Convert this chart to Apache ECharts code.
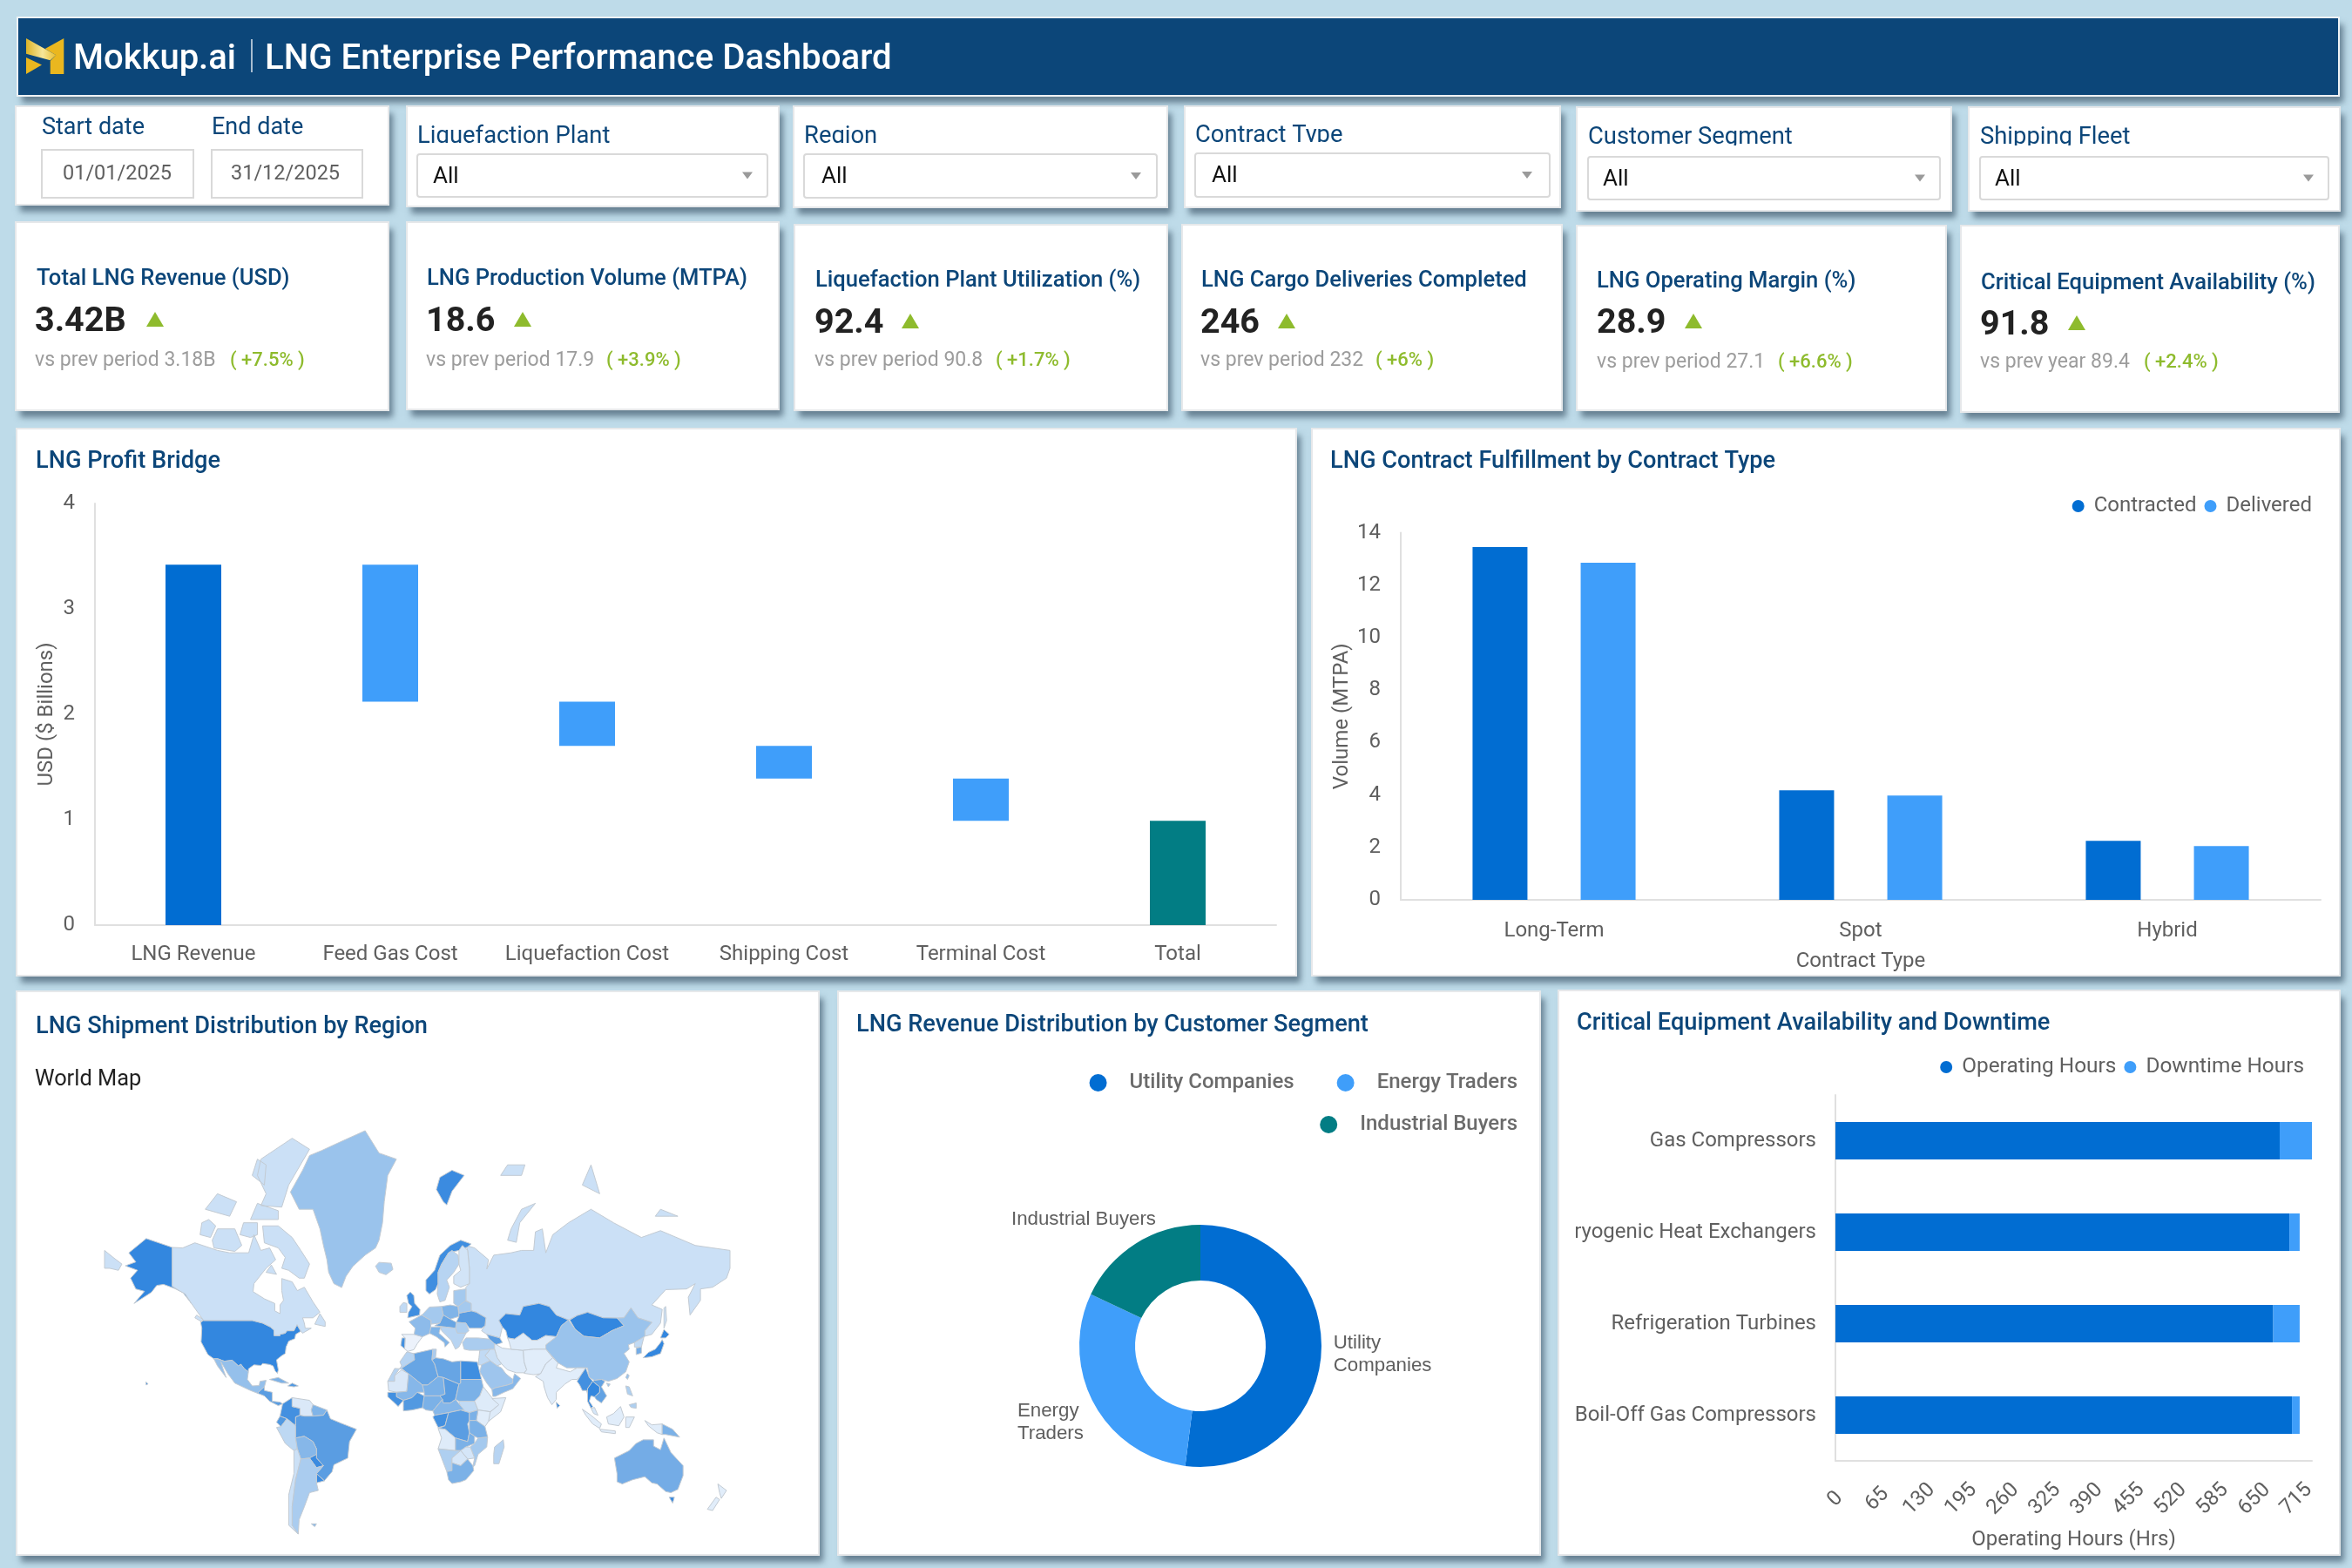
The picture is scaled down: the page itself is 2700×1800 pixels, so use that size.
<!DOCTYPE html>
<html>
<head>
<meta charset="utf-8">
<title>LNG Enterprise Performance Dashboard</title>
<script src="https://cdn.jsdelivr.net/npm/echarts@6/dist/echarts.min.js"></script>
<style>
  html, body { margin: 0; padding: 0; background: #BEDBE9; }
  #main { width: 2700px; height: 1800px; }
</style>
</head>
<body>
<div id="main"></div>
<script>
// ---- data ----
var bridgeCategories = ['LNG Revenue', 'Feed Gas Cost', 'Liquefaction Cost', 'Shipping Cost', 'Terminal Cost', 'Total'];
var bridgeBase = [0, 2.12, 1.70, 1.39, 0.99, 0];
var bridgeValues = [3.42, 1.30, 0.42, 0.31, 0.40, 0.99];

var contractTypes = ['Long-Term', 'Spot', 'Hybrid'];
var contracted = [13.45, 4.18, 2.25];
var delivered = [12.85, 3.98, 2.05];

var segmentNames = ['Utility Companies', 'Energy Traders', 'Industrial Buyers'];
var segmentLabels = ['Utility\nCompanies', 'Energy\nTraders', 'Industrial Buyers'];
var segmentValues = [52, 30, 18];

var equipment = ['Gas Compressors', 'Cryogenic Heat Exchangers', 'Refrigeration Turbines', 'Boil-Off Gas Compressors'];
var operatingHours = [689, 704, 679, 708];
var downtimeHours = [50, 16, 41, 12];

var kpiTitles = ['Total LNG Revenue (USD)', 'LNG Production Volume (MTPA)', 'Liquefaction Plant Utilization (%)', 'LNG Cargo Deliveries Completed', 'LNG Operating Margin (%)', 'Critical Equipment Availability (%)'];
var kpiValues = ['3.42B', '18.6', '92.4', '246', '28.9', '91.8'];
var kpiPrev = ['vs prev period 3.18B', 'vs prev period 17.9', 'vs prev period 90.8', 'vs prev period 232', 'vs prev period 27.1', 'vs prev year 89.4'];
var kpiChange = ['( +7.5% )', '( +3.9% )', '( +1.7% )', '( +6% )', '( +6.6% )', '( +2.4% )'];
var filterNames = ['Liquefaction Plant', 'Region', 'Contract Type', 'Customer Segment', 'Shipping Fleet'];

var regionNames = ['Alaska', 'USA', 'Canada', 'Greenland', 'Iceland', 'Svalbard', 'Russia', 'Kazakhstan', 'Mongolia', 'China', 'Japan', 'South Korea', 'North Korea', 'Norway', 'Sweden', 'Finland', 'UK', 'Ireland', 'Spain', 'Portugal', 'France', 'Germany', 'Poland', 'Ukraine', 'Belarus', 'Baltics', 'Italy', 'Romania', 'Central Europe', 'Balkans', 'Turkey', 'Caucasus', 'Iran', 'Iraq', 'Levant', 'Saudi Arabia', 'Oman Yemen', 'Central Asia', 'Afghanistan Pakistan', 'India', 'Sri Lanka', 'Myanmar', 'Thailand', 'Indochina', 'Malaysia', 'Indonesia', 'Papua', 'Philippines', 'Australia', 'Tasmania', 'New Zealand', 'Morocco', 'Algeria', 'Tunisia', 'Libya', 'Egypt', 'Mauritania', 'Mali', 'Niger', 'Chad', 'Sudan', 'South Sudan', 'Ethiopia', 'Somalia', 'Nigeria', 'Senegal', 'Ghana', 'Cameroon', 'Gabon', 'DR Congo', 'Kenya', 'Uganda', 'Tanzania', 'Angola', 'Zambia', 'Mozambique', 'Zimbabwe', 'Namibia', 'Botswana', 'South Africa', 'Madagascar', 'Mexico', 'Central America', 'Cuba', 'Hispaniola', 'Colombia', 'Venezuela', 'Guianas', 'Ecuador', 'Peru', 'Brazil', 'Bolivia', 'Paraguay', 'Uruguay', 'Chile', 'Argentina', 'Falklands'];
var regionValues = [100, 100, 25, 50, 40, 95, 25, 100, 100, 50, 100, 65, 30, 92, 35, 20, 92, 30, 3, 90, 55, 45, 60, 75, 45, 45, 60, 40, 70, 35, 42, 75, 12, 25, 30, 48, 58, 12, 10, 10, 100, 90, 100, 72, 18, 10, 62, 40, 65, 100, 10, 35, 70, 42, 70, 92, 15, 58, 62, 75, 62, 30, 12, 12, 62, 90, 80, 58, 90, 75, 10, 62, 62, 12, 62, 45, 18, 40, 18, 62, 35, 52, 75, 62, 80, 90, 15, 60, 80, 32, 75, 58, 95, 95, 25, 42, 60];

// simplified country outlines in lon,lat (no geojson available offline, traced by hand)
var regionOutlines = {
  'Alaska': [[-141,69.6,-156,71.3,-166,68.5,-162,66.5,-168,65.6,-161,64.5,-165,62.5,-162,59.5,-157,58.8,-163,55,-153,58.5,-150,60.5,-146,60.8,-140,59.7,-135,58.5,-130,55,-133.5,58,-137,59,-141,60.3]],
  'USA': [[-124.7,48.4,-123,49,-95,49,-89,48,-84.5,46.5,-82.5,45.3,-82.4,43,-79,43,-79,43.5,-76,44,-75,45,-71,45,-69.2,47.4,-67.8,45.7,-67,44.8,-70,43.5,-70.5,41.7,-74,40.6,-75.5,38,-76,35,-78,34,-81,32,-80,27,-80.5,25.2,-81.8,26.5,-83,29,-85,29.7,-89,30.2,-90,29.2,-94,29.5,-97.2,27.5,-97.2,26,-99.5,27.5,-101.5,29.8,-103,29,-106.5,31.8,-111,31.3,-114.8,32.5,-117.1,32.5,-120.5,34.5,-124.4,40.3,-124,46], [-156,19,-155,19.5,-155.5,20.2,-156.2,20.6]],
  'Canada': [[-141,69.6,-135,69.5,-128,70.5,-115,69,-108,68.5,-97,68.5,-94,72,-90,69,-85,69.5,-81.5,67,-87,65,-94,61,-94.5,58.7,-88,56.5,-82,55,-82,52.5,-79,51.5,-79,54.5,-77,56,-78,59,-78,62.4,-72,61.5,-69,59,-65,60,-60,55.5,-56,52,-60,50,-66,50,-65,48,-64.5,46,-61,46,-66,44,-67,44.8,-67.8,45.7,-69.2,47.4,-71,45,-75,45,-76,44,-79,43.5,-79,43,-82.4,43,-82.5,45.3,-84.5,46.5,-89,48,-95,49,-123,49,-123.5,49,-130,55,-133.5,58,-137,59,-141,60.3],
    [-62,66,-65,62.5,-68,62.5,-74,64.5,-78,65,-76,67.5,-80,69.5,-88,70.5,-89,73.5,-80,73.5,-72,71.5,-67,69], [-117,69.5,-105,68.8,-101,70,-105,73,-115,73,-118,71], [-125,72,-119,71.5,-116,73.5,-120,74.5,-124,74], [-90,76.5,-78,76.3,-74,79,-62,82.3,-72,83.1,-90,81.5,-92,80,-87,78], [-96,74.5,-80,74.5,-80,75.8,-92,76.8], [-122,76,-108,75,-104,77,-115,78], [-102,72,-96,71.5,-92,72,-92,74,-100,74], [-95,80,-88,79,-87,81,-92,81.5], [-87,64,-81,63.5,-84,65.8], [-59,47.6,-53,46.7,-53,48.5,-56,51.5], [-128,50,-124,48.5,-123.5,49.5,-127,51]],
  'Greenland': [[-73,78.2,-68,76,-60,76,-56,73,-54,70,-52,67,-51,64,-48,61,-43.5,59.9,-41,63,-37,65.5,-30,68,-24,69.5,-22,71,-20,74,-19,77,-17,80,-12,81.5,-22,82,-30,83.6,-45,82.8,-55,82.2,-62,81.8,-66,80.5]],
  'Iceland': [[-24,65.5,-22,64,-18,63.4,-14,64.7,-15,66.2,-22,66.4]],
  'Svalbard': [[11,78.5,15,77,17,76.6,20,78.3,27,80,20,80.5,13,79.8]],
  'Russia': [[28,70,33,69.5,41,67,40,64.8,44,68,54,68.5,60,69,67,69,68,72.5,72,73,74,68.5,78,72,87,74,100,76,113,74,129,71.5,140,72.7,160,70,170,69.5,180,69,180,65,178,62.5,170,60,163,59.5,163,56,157,51,156,57,160,61,155,59.5,143,59.3,135,54.5,141,53,140,48,135,43.5,131,42.7,131,45,135,48.3,127,50,123,53.5,119,50,115,49.9,107,50,98,52,92,50.8,87,49.2,80,51,76,54,70,55,61,54,59,51,51,51.5,47,49,49,46.5,47.5,42,40,43.5,37,45,39,47,39.5,50,34,52,31,52.5,31,55,28,56,28,60,30,61,30,65,29,69],
    [-180,65,-180,69,-175,67.5,-170,66,-172,64.5,-177,65], [52,71,57,70.6,59,74,68,76.8,60,76,54,73], [48,80,60,80,62,81,52,81], [95,79,105,78,100,81], [137,75,145,75,150,75,140,76], [142,46,143.5,49,143,54,142,53.5]],
  'Kazakhstan': [[47,49,51,51.5,59,51,61,54,70,55,76,54,80,51,87,49.2,83,47,80,42.5,74,43,69,41,66,41,61,44,56,41.5,52,42,51,45,49,46.5]],
  'Mongolia': [[87.8,49.2,92,50.8,98,52,107,50,115,49.9,119,47,112,45,105,42,96,42.7,91,45.5]],
  'China': [[74,39,80,42.5,83,47,87,49.2,91,45.5,96,42.7,105,42,112,45,119,47,115,49.9,119,50,123,53.5,127,50,135,48.3,131,45,131,42.7,125,40,121.5,39,122,37,119,35,122,31,120,26,115,22.5,110,21,106,22,102,21.5,99,23,98,28,92,28,86,28,81,30.5,78.5,33,74,37], [121,25,122,24,121,22,120,23], [109,20,111,19.5,110,18]],
  'Japan': [[130,33,135,33.5,140,35,142,39.5,141,41.3,140,40,137,37,133,35.5], [140,42,143,42,145,43.5,142,45.5]],
  'South Korea': [[126,34.5,129,35.2,129,38,126,37.5]],
  'North Korea': [[125,38,129,38,130.5,42.5,125,40]],
  'Norway': [[5,59,7,58,10.5,59.3,12,61,12,64,14,66,18,68.5,24,69,29,69.7,31,70.3,25,71,19,70,13,68,10,64.5,5,62]],
  'Sweden': [[11.5,58,13,55.5,16,56,18.5,60,17,62,21,64,24,66,23.5,68,20,69,18,68.5,14,66,12,64,12,61]],
  'Finland': [[21,61,25,60,30,61,30,65,29,69,26,70,24,69,24,66,25,64.5,21,63]],
  'UK': [[-5.5,50,1.3,51,1.6,53,-1.5,55,-2,57.5,-4,58.6,-6,57.5,-5,55,-3,54,-5,52]],
  'Ireland': [[-10,52,-6,52,-6,55,-8,55.3,-10,54]],
  'Spain': [[-9,43.5,-1.8,43.5,3,42.5,0,39.5,-2,36.8,-5.5,36,-7.3,37.2,-7,42]],
  'Portugal': [[-9.5,38.7,-7.3,37.2,-7,42,-8.8,42]],
  'France': [[-4.7,48.5,2.5,51,8,49,7.5,44,3,42.5,-1.8,43.5,-1.2,46]],
  'Germany': [[3,51.2,7,53.8,14,54,15,51,13,48,8,47.6,8,49,2.5,51]],
  'Poland': [[14,54,19,54.5,23.5,54,24,50.5,19,49.5,15,51]],
  'Ukraine': [[24,50.5,24,51.7,31,52.5,34,52,39.5,50,39,47,37,46,33,46,30,46,28,48,22.5,48.3]],
  'Belarus': [[23.5,54,27,56,31,55,31,52.5,24,51.7]],
  'Baltics': [[21,55,21,59,28,59.5,28,56,23.5,54]],
  'Italy': [[7,44,8,46.5,13.5,46.5,12.5,44,18.5,40,16,38,15.5,40,11,42.5]],
  'Romania': [[22.5,48.3,28,48,29.7,45,28,44,23,44,22,46]],
  'Central Europe': [[13,48,15,51,19,49.5,22.5,48.3,22,46,16,46.5,10,47]],
  'Balkans': [[13.5,46.5,16,46.5,22,46,23,44,28,44,26,41,24,38,22,37,19.5,41,14,45]],
  'Turkey': [[26,40,28,42,35,42,41.5,41.5,44.5,39.5,44.5,37,36,36.5,30,36.5,27,37]],
  'Caucasus': [[40,43.5,47.5,42,49,40,45,39,44.5,39.5,41.5,41.5]],
  'Iran': [[44.5,39.5,49,37.5,54,37,61,36.5,61.5,31,63,27,61.5,25.5,57,25.5,52,27,48.5,30,46,33,44.5,37]],
  'Iraq': [[39,34,42,37,44.5,37,46,33,48.5,30,46,29,42,31.5]],
  'Levant': [[35,29.5,35.5,33,36,36.5,42,37,39,34,42,31.5,37,29.5]],
  'Saudi Arabia': [[37,29.5,42,31.5,46,29,48.5,28,51,25,55,22,55,20,52,19,45,17.5,43,16.5,40,20,36,26]],
  'Oman Yemen': [[43,16.5,45,17.5,52,19,55,20,55,22,56,25,59.5,22.5,55,17,50,15,45,12.7,43.5,12.7]],
  'Central Asia': [[52,42,56,41.5,61,44,66,41,69,41,74,43,80,42.5,74,39,74,37,67,37,61,36.5,54,37,53,40]],
  'Afghanistan Pakistan': [[61,36.5,67,37,74,37,78,33,74,30,71,25,67,24.5,61.5,25.2,63,27,61.5,31]],
  'India': [[68,23.5,71,25,74,30,78,33,81,30.5,80,28,88,26,92,28,97,28,94,24,92,22,89,22,85,19.5,80,15,80,11,77.5,8,75,12,73,18,72.5,21]],
  'Sri Lanka': [[80,9.5,82,7.5,80.5,6]],
  'Myanmar': [[92,21,94,24,97,28,99,23,101,21,98,17,99,10,97.5,16,95,16,93.5,19]],
  'Thailand': [[98,17,101,21,105,18,105,15,102,12.5,100,13,99,10,101,7,100,6,98,10]],
  'Indochina': [[102,21.5,106,22,108,21,106,18,109,13,106,9,103,11,102,12.5,105,15,105,18,101,21]],
  'Malaysia': [[100,6,102,6.5,104,2,101.5,3]],
  'Indonesia': [[95,5.5,100,2,106,-3,105,-5.5,101,-3,97,2], [105,-6,114,-7,114,-8.5,106,-7.5], [109,1,113,3,117,7,119,1,116,-4,110,-3], [120,1,125,1,122,-5,120,-5], [131,-1,135,-3.5,141,-3,141,-9,138,-8,133,-4]],
  'Papua': [[141,-3,147,-6,151,-10.5,143,-9,141,-9]],
  'Philippines': [[120,18.5,122,18,124,13,121,14], [122,8,126,9,126,6,123,6.5]],
  'Australia': [[113.5,-22,122,-18,126,-14,130,-12,136,-12,136,-15.5,140,-17.5,142,-11,146,-19,153,-26,153,-31,150,-37.5,146,-39,143,-38.5,138,-35,135,-34.5,131,-31.5,124,-33,118,-35,115,-34,115,-30]],
  'Tasmania': [[145,-41,148,-41,147,-43.5]],
  'New Zealand': [[173,-35,178,-38,175,-41.5,174,-39], [172,-41,174,-42,170,-46.5,167,-46]],
  'Morocco': [[-6,35.8,-2,35,-1.5,32,-8.7,28,-8.7,27.5,-13,27.7,-17,21,-13,21,-13,24,-9,29,-10,31]],
  'Algeria': [[-2,35,9,37,8.5,32,10,30,12,23.5,6,19,3,19,-8.7,27.5,-8.7,28,-1.5,32]],
  'Tunisia': [[9,37,11,37,10.5,33,8.5,32]],
  'Libya': [[10.5,33,15,32.5,20,31,25,31.5,25,20,24,19.5,15,23,12,23.5,10,30,8.5,32]],
  'Egypt': [[25,31.5,34.5,31,37,22,25,22]],
  'Mauritania': [[-17,21,-13,21,-13,24,-9,27,-5,25,-6,15.5,-12,15,-16.5,16]],
  'Mali': [[-5,25,3,19,4,15,0,15,-3,12,-8,10.5,-12,12.5,-12,15,-6,15.5]],
  'Niger': [[3,19,6,19,12,23.5,15,23,16,14,13,13,4,13,4,15]],
  'Chad': [[15,23,24,19.5,22,11,19,9,15,9,13,13,16,14]],
  'Sudan': [[25,22,37,22,38,18,36,13,33,10,24,10,22,11,24,19.5,25,20]],
  'South Sudan': [[24,10,33,10,35,5,30,3.5,25,5]],
  'Ethiopia': [[36,13,38,18,43,12,47,8,42,4,35,5,33,10]],
  'Somalia': [[43,11.5,51,12,48,4,41,-1.5,41,3,47,8]],
  'Nigeria': [[3,6.3,3,12,4,13,13,13,14.5,11,9,4.5,5,5]],
  'Senegal': [[-17,15,-12,15,-12,12.5,-8,10.5,-11,7,-13,9,-17,12.5]],
  'Ghana': [[-8,10.5,-3,12,0,15,4,13,3,6.3,-3,5,-8,4.5,-8,7]],
  'Cameroon': [[9,4.5,14.5,11,15,9,19,9,22,11,27,5,25,5,18,3.5,10,2]],
  'Gabon': [[9,1,10,2,18,3.5,16,-4,12,-5]],
  'DR Congo': [[12,-5.5,16,-4,18,3.5,25,5,30,3.5,30,-1,29,-3,30,-8,29,-13,22,-11,16,-6]],
  'Kenya': [[34,-1,35,5,42,4,41,-1.5,39,-4.5]],
  'Uganda': [[30,3.5,35,5,34,-1,30,-1]],
  'Tanzania': [[30,-1,34,-1,39,-4.5,40.5,-10.5,35,-11,33,-10,30,-8]],
  'Angola': [[12,-5.5,16,-6,22,-11,22,-16,22,-18,12,-17,14,-11]],
  'Zambia': [[22,-11,29,-13,30,-8,33,-10,33,-14,28,-16,25,-18,22,-18]],
  'Mozambique': [[35,-11,40.5,-10.5,40,-16,35,-20,33,-26,32,-26.5,33,-22,30.5,-16,33,-14]],
  'Zimbabwe': [[25,-18,28,-16,30.5,-16,33,-22,29,-22.5]],
  'Namibia': [[12,-17,22,-18,25,-18,20,-22,20,-28.5,17,-29,14,-22]],
  'Botswana': [[20,-22,25,-18,29,-22.5,25,-26,20,-24.5]],
  'South Africa': [[17,-29,20,-28.5,20,-24.5,25,-26,29,-22.5,32,-26,32.5,-28.5,28,-33,25,-34,20,-34.8,18,-33]],
  'Madagascar': [[49.5,-12,50,-16,47,-25,44,-25,44,-20,44.5,-16]],
  'Mexico': [[-117.1,32.5,-114.8,32.5,-111,31.3,-106.5,31.8,-103,29,-101.5,29.8,-99.5,27.5,-97.2,26,-97.8,22,-95,18.5,-91,18.7,-90.5,21,-87,21.5,-88,18,-92,14.5,-96,16,-105,20,-109,25,-113,31,-112,28,-110,23,-115,29]],
  'Central America': [[-92,14.5,-88,18,-88,16,-83.5,15,-83.5,10,-79,9.5,-77.5,8.5,-80,7.5,-85,10,-88,13]],
  'Cuba': [[-85,22,-80,23,-74,20,-78,20]],
  'Hispaniola': [[-74.5,18.5,-72,20,-68.5,18.5,-71,18]],
  'Colombia': [[-77.5,8.5,-72,12,-72,7,-67.5,6,-67.5,2,-70,1,-70,-4,-75,0,-79,1.5]],
  'Venezuela': [[-72,12,-62,10.5,-60,8,-61,5,-60,1.5,-65,1.5,-67.5,2,-67.5,6,-72,7]],
  'Guianas': [[-60,8,-52,5,-54,2,-60,1.5,-61,5]],
  'Ecuador': [[-81,-2,-79,1.5,-75,0,-78.5,-4.5]],
  'Peru': [[-81,-5,-78.5,-4.5,-75,0,-70,-4,-70,-11,-69,-17,-71,-18,-76,-14]],
  'Brazil': [[-70,-4,-70,1,-67.5,2,-65,1.5,-60,1.5,-54,2,-52,5,-50,0,-44,-2.5,-35,-6,-39,-13,-40,-22,-48,-25.5,-49,-29,-53.5,-33.5,-58,-30,-54,-26,-58,-22,-58,-17,-60,-13,-65,-10,-70,-11]],
  'Bolivia': [[-70,-11,-65,-10,-60,-13,-58,-17,-58,-20,-62,-22,-67,-22.5,-69,-17]],
  'Paraguay': [[-62,-22,-58,-20,-58,-22,-54,-26,-58,-27]],
  'Uruguay': [[-58,-30,-53.5,-33.5,-58,-34.5]],
  'Chile': [[-71,-18,-69,-17,-67,-22.5,-70,-33,-72,-45,-72,-52,-68.5,-55,-74,-52,-74,-40,-71,-30]],
  'Argentina': [[-67,-22.5,-62,-22,-58,-27,-54,-26,-58,-30,-58,-34.5,-57,-38,-62,-39,-65,-45,-68,-50,-68.5,-55,-72,-52,-72,-45,-70,-33]],
  'Falklands': [[-61,-51.5,-58,-51.5,-59,-52.5]]
};

// ---- colours ----
var DARK = '#016DD2', LIGHT = '#3F9EFA', TEAL = '#027D84', NAVY = '#0C4679', GREY = '#5F5F5F', AXIS = '#E0E0E0', GREEN = '#8EBB2D', GOLD = '#EAB71F';
var FONT = 'Roboto';

// ---- map ----
function toCoords(flat) {
  var ring = [];
  for (var i = 0; i < flat.length; i += 2) ring.push([flat[i], flat[i + 1]]);
  ring.push([flat[0], flat[1]]);
  return [ring];
}
var worldFeatures = regionNames.map(function (name) {
  return {
    type: 'Feature',
    properties: { name: name },
    geometry: { type: 'MultiPolygon', coordinates: regionOutlines[name].map(toCoords) }
  };
});
echarts.registerMap('world', { type: 'FeatureCollection', features: worldFeatures });
var mercator = {
  project: function (p) { return [p[0], -180 / Math.PI * Math.log(Math.tan(Math.PI / 4 + p[1] * Math.PI / 360))]; },
  unproject: function (p) { return [p[0], (2 * Math.atan(Math.exp(-p[1] * Math.PI / 180)) - Math.PI / 2) * 180 / Math.PI]; }
};

// ---- page furniture drawn as graphic elements ----
var items = [];
var shadow = { shadowBlur: 7, shadowColor: 'rgba(45,70,90,0.6)', shadowOffsetX: 5, shadowOffsetY: 8 };
function panel(x1, y1, x2, y2, fill, edge) {
  var shape = { x: x1, y: y1, width: x2 - x1, height: y2 - y1 };
  // stroke goes in its own rect, a stroked rect would throw its shadow over its own fill
  items.push({ type: 'rect', z: -11, shape: shape, style: Object.assign({ fill: fill }, shadow) });
  items.push({ type: 'rect', z: -10, shape: shape, style: { fill: 'none', stroke: edge, lineWidth: 2 } });
}
function card(x1, y1, x2, y2) {
  panel(x1, y1, x2, y2, '#fff', '#E6E8EA');
}
function txt(x, y, text, size, color, weight, z) {
  items.push({
    type: 'text', z: z || -5, x: x, y: y + size * 0.1,
    style: { text: text, fill: color, font: (weight || 400) + ' ' + size + 'px ' + FONT, align: 'left', verticalAlign: 'middle' }
  });
}
function box(x1, y1, x2, y2, r) {
  items.push({ type: 'rect', z: -3, shape: { x: x1, y: y1, width: x2 - x1, height: y2 - y1, r: r }, style: { fill: '#fff', stroke: '#D9D9D9', lineWidth: 2 } });
}
function poly(points, fill) {
  items.push({ type: 'polygon', z: -2, shape: { points: points }, style: { fill: fill } });
}

// header
panel(20, 20, 2685, 110, NAVY, '#EEF2F5');
poly([[73.3, 44], [73.3, 85], [57.7, 85], [57.7, 70], [64.3, 63.3], [51.7, 56]], GOLD);
poly([[30, 66], [48, 74.5], [30, 85]], GOLD);
poly([[30, 44], [64.3, 63.3], [57.7, 69.3], [30, 61.7]], {
  type: 'linear', x: 0, y: 0, x2: 1, y2: 0,
  colorStops: [{ offset: 0, color: '#DDB428' }, { offset: 0.55, color: '#F6E69A' }, { offset: 1, color: '#E9BE2E' }]
});
txt(84, 65, 'Mokkup.ai', 40, '#fff', 500);
items.push({ type: 'line', z: -5, shape: { x1: 289, y1: 45, x2: 289, y2: 83 }, style: { stroke: '#DDE6EE', lineWidth: 1.5 } });
txt(304, 65, 'LNG Enterprise Performance Dashboard', 40.2, '#fff', 500);

// date filter
card(18, 122, 446, 235);
txt(48, 145, 'Start date', 27, NAVY);
txt(243, 145, 'End date', 27, NAVY);
box(48, 172, 222, 227, 0);
box(243, 172, 416, 227, 0);
txt(72, 198, '01/01/2025', 23.5, GREY, 400, -1);
txt(265, 198, '31/12/2025', 23.5, GREY, 400, -1);

// dropdown filters
var filterCards = [[467, 122, 894, 237], [911, 122, 1340, 238], [1360, 122, 1791, 238], [1810, 123, 2240, 242], [2260, 123, 2686, 242]];
var filterBoxes = [[479, 177, 881, 226], [923, 177, 1328, 227], [1372, 176, 1779, 226], [1823, 180, 2227, 229], [2273, 180, 2673, 229]];
var filterLabelY = [154, 154, 153, 155, 155];
var filterAllX = [497, 943, 1391, 1840, 2290];
var filterArrowX = [858, 1304, 1753, 2204, 2650];
filterNames.forEach(function (name, i) {
  var c = filterCards[i], b = filterBoxes[i];
  card(c[0], c[1], c[2], c[3]);
  txt(b[0], filterLabelY[i], name, 27.4, NAVY);
  // the original clips the descenders of these labels
  items.push({ type: 'rect', z: -4, shape: { x: b[0], y: b[1] - 13, width: 300, height: 11 }, style: { fill: '#fff' } });
  box(b[0], b[1], b[2], b[3], 3);
  var cy = (b[1] + b[3]) / 2;
  txt(filterAllX[i], cy - 1, 'All', 26, '#111', 400, -1);
  poly([[filterArrowX[i] - 6, cy - 4], [filterArrowX[i] + 6, cy - 4], [filterArrowX[i], cy + 4]], '#9A9A9A');
});

// KPI cards
var kpiCards = [[18, 255, 446, 471], [467, 255, 894, 470], [912, 258, 1340, 471], [1357, 258, 1793, 471], [1810, 259, 2234, 471], [2251, 259, 2685, 473]];
var kpiTitleX = [42, 490, 936, 1379, 1833, 2274];
var kpiTitleY = [318, 318, 320, 320, 321, 323];
var kpiValueX = [40, 489, 935, 1378, 1833, 2273];
var kpiValueY = [366, 366, 368, 368, 368, 370];
var kpiArrowX = [178, 600, 1045, 1477, 1944, 2384];
var kpiSubY = [412, 412, 412, 412, 414, 414];
var kpiChangeX = [264, 696, 1143, 1579, 2041, 2461];
kpiTitles.forEach(function (title, i) {
  var c = kpiCards[i];
  card(c[0], c[1], c[2], c[3]);
  txt(kpiTitleX[i], kpiTitleY[i], title, 25.6, NAVY, 500);
  txt(kpiValueX[i], kpiValueY[i], kpiValues[i], 39.5, '#222', 700);
  var ax = kpiArrowX[i], ay = kpiValueY[i] + 1;
  poly([[ax, ay - 9], [ax + 10, ay + 8], [ax - 10, ay + 8]], GREEN);
  txt(kpiValueX[i], kpiSubY[i], kpiPrev[i], 23, '#9C9C9C');
  txt(kpiChangeX[i], kpiSubY[i], kpiChange[i], 22, GREEN, 500);
});

// chart panels and their titles
card(19, 492, 1488, 1120);
card(1506, 492, 2686, 1120);
card(19, 1138, 940, 1785);
card(962, 1138, 1768, 1785);
card(1789, 1137, 2686, 1785);
txt(41, 527, 'LNG Profit Bridge', 27.2, NAVY, 500);
txt(1527, 527, 'LNG Contract Fulfillment by Contract Type', 27.2, NAVY, 500);
txt(41, 1176, 'LNG Shipment Distribution by Region', 27.2, NAVY, 500);
txt(40, 1237, 'World Map', 25.4, '#222');
txt(983, 1174, 'LNG Revenue Distribution by Customer Segment', 27.2, NAVY, 500);
txt(1810, 1172, 'Critical Equipment Availability and Downtime', 27.2, NAVY, 500);
// the category label overflows its panel padding in the original and gets cut
items.push({ type: 'rect', z: 50, shape: { x: 1792, y: 1397, width: 17, height: 32 }, style: { fill: '#fff' } });

// ---- chart ----
var axisLabel = { color: GREY, fontSize: 24, fontFamily: FONT };
var axisLine = { show: true, lineStyle: { color: AXIS, width: 2 } };
var nameStyle = { color: GREY, fontSize: 24, fontFamily: FONT };

var option = {
  animation: false,
  backgroundColor: '#BEDBE9',
  textStyle: { fontFamily: FONT },
  graphic: { elements: items },
  grid: [
    { left: 109, top: 578, width: 1356, height: 484 },
    { left: 1608, top: 611.5, width: 1056, height: 421.5 },
    { left: 2107, top: 1257, width: 547, height: 420 }
  ],
  xAxis: [
    { type: 'category', gridIndex: 0, data: bridgeCategories, axisTick: { show: false }, axisLine: axisLine, axisLabel: Object.assign({ margin: 22, interval: 0 }, axisLabel) },
    { type: 'category', gridIndex: 1, data: contractTypes, name: 'Contract Type', nameLocation: 'middle', nameGap: 59, nameTextStyle: nameStyle, axisTick: { show: false }, axisLine: axisLine, axisLabel: Object.assign({ margin: 24 }, axisLabel) },
    { type: 'value', gridIndex: 2, min: 0, max: 739, interval: 65, name: 'Operating Hours (Hrs)', nameLocation: 'middle', nameGap: 79, nameTextStyle: nameStyle, splitLine: { show: false }, axisTick: { show: false }, axisLine: axisLine, axisLabel: Object.assign({ margin: 44, rotate: 45, align: 'center', verticalAlign: 'middle', showMaxLabel: false }, axisLabel) }
  ],
  yAxis: [
    // nameMoveOverlap off: the names sit as close to the tick labels as the original has them
    { type: 'value', gridIndex: 0, min: 0, max: 4, interval: 1, name: 'USD ($ Billions)', nameLocation: 'middle', nameGap: 43, nameMoveOverlap: false, nameRotate: 90, nameTextStyle: nameStyle, splitLine: { show: false }, axisTick: { show: false }, axisLine: axisLine, axisLabel: Object.assign({ margin: 23 }, axisLabel) },
    { type: 'value', gridIndex: 1, min: 0, max: 14, interval: 2, name: 'Volume (MTPA)', nameLocation: 'middle', nameGap: 55, nameMoveOverlap: false, nameRotate: 90, nameTextStyle: nameStyle, splitLine: { show: false }, axisTick: { show: false }, axisLine: axisLine, axisLabel: Object.assign({ margin: 23 }, axisLabel) },
    { type: 'category', gridIndex: 2, inverse: true, data: equipment, axisTick: { show: false }, axisLine: axisLine, axisLabel: Object.assign({ margin: 22, interval: 0 }, axisLabel) }
  ],
  legend: [
    { data: ['Contracted', 'Delivered'], right: 41, top: 564, icon: 'circle', itemWidth: 14, itemHeight: 14, itemGap: 9, selectedMode: false, textStyle: { color: GREY, fontSize: 24, fontFamily: FONT, padding: [0, 0, 0, 6] } },
    { data: ['Operating Hours', 'Downtime Hours'], right: 50, top: 1208, icon: 'circle', itemWidth: 14, itemHeight: 14, itemGap: 9, selectedMode: false, textStyle: { color: GREY, fontSize: 24.4, fontFamily: FONT, padding: [0, 0, 0, 6] } },
    { data: segmentNames.slice(0, 2), right: 953, top: 1226, icon: 'circle', itemWidth: 20, itemHeight: 20, itemGap: 49, selectedMode: false, textStyle: { color: '#6B6B6B', fontSize: 24, fontWeight: 500, fontFamily: FONT, padding: [0, 0, 0, 21] } },
    { data: segmentNames.slice(2), right: 953, top: 1274, icon: 'circle', itemWidth: 20, itemHeight: 20, selectedMode: false, textStyle: { color: '#6B6B6B', fontSize: 24, fontWeight: 500, fontFamily: FONT, padding: [0, 0, 0, 21] } }
  ],
  visualMap: {
    show: false, type: 'continuous', seriesIndex: 7, min: 0, max: 100,
    inRange: { color: ['#F0F5FC', '#CBE0F6', '#9AC3EC', '#5A9DE2', '#3387DF'] }
  },
  series: [
    { type: 'bar', xAxisIndex: 0, yAxisIndex: 0, stack: 'bridge', barWidth: 64, silent: true, itemStyle: { color: 'transparent' }, data: bridgeBase },
    {
      type: 'bar', xAxisIndex: 0, yAxisIndex: 0, stack: 'bridge', barWidth: 64, silent: true,
      data: bridgeValues.map(function (v, i) {
        return { value: v, itemStyle: { color: i === 0 ? DARK : (i === bridgeValues.length - 1 ? TEAL : LIGHT) } };
      })
    },
    { type: 'bar', name: 'Contracted', xAxisIndex: 1, yAxisIndex: 1, barWidth: 63, barGap: '97%', silent: true, itemStyle: { color: DARK }, data: contracted },
    { type: 'bar', name: 'Delivered', xAxisIndex: 1, yAxisIndex: 1, barWidth: 63, silent: true, itemStyle: { color: LIGHT }, data: delivered },
    { type: 'bar', name: 'Operating Hours', xAxisIndex: 2, yAxisIndex: 2, stack: 'hours', barWidth: 43, silent: true, itemStyle: { color: DARK }, data: operatingHours },
    { type: 'bar', name: 'Downtime Hours', xAxisIndex: 2, yAxisIndex: 2, stack: 'hours', barWidth: 43, silent: true, itemStyle: { color: LIGHT }, data: downtimeHours },
    {
      type: 'pie', center: [1378, 1545], radius: [75, 139], startAngle: 90, silent: true,
      label: {
        color: GREY, fontSize: 22.3, lineHeight: 26, fontFamily: 'Liberation Sans',
        formatter: function (p) { return segmentLabels[p.dataIndex]; }
      },
      labelLine: { show: false, length: 14, length2: 0 },
      labelLayout: function (p) {
        if (p.dataIndex === 0) return { dx: -5 };
        if (p.dataIndex === 1) return { dx: -71, dy: 14, align: 'left' };
        return { dx: 36, dy: -16 };
      },
      data: segmentNames.map(function (n, i) {
        return { name: n, value: segmentValues[i], itemStyle: { color: [DARK, LIGHT, TEAL][i] } };
      })
    },
    {
      type: 'map', map: 'world', projection: mercator, aspectScale: 1, roam: false, silent: true, showLegendSymbol: false,
      left: 120, top: 1298, width: 718, height: 463,
      label: { show: false },
      itemStyle: { borderColor: '#C3CBD3', borderWidth: 1 },
      data: regionNames.map(function (n, i) { return { name: n, value: regionValues[i] }; })
    }
  ]
};

var myChart = echarts.init(document.getElementById('main'));
myChart.setOption(option);
</script>
</body>
</html>
